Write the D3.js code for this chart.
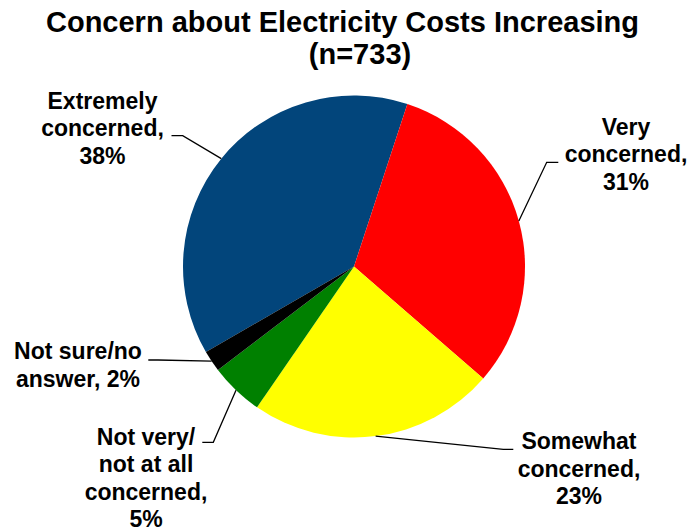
<!DOCTYPE html>
<html>
<head>
<meta charset="utf-8">
<script src="https://cdn.jsdelivr.net/npm/d3@7"></script>
<style>
  body { margin: 0; background: #fff; }
</style>
</head>
<body>
<script>
// data
let categories = ['Extremely concerned', 'Very concerned', 'Somewhat concerned', 'Not very/ not at all concerned', 'Not sure/no answer'];
let values = [38, 31, 23, 5, 2];
let labelLines = [
  ['Extremely', 'concerned,', '38%'],
  ['Very', 'concerned,', '31%'],
  ['Somewhat', 'concerned,', '23%'],
  ['Not very/', 'not at all', 'concerned,', '5%'],
  ['Not sure/no', 'answer, 2%']
];
let colors = ['#02457b', '#ff0000', '#ffff00', '#008000', '#000000'];

let width = 691;
let height = 531;
let cx = 354;
let cy = 266.5;
let radius = 171;
let font = "'Liberation Sans', Arial, sans-serif";

// where each label sits (centre x, first baseline) and its leader elbow
let labelLayout = [
  {x: 102.5, y: 108.5, elbow: [182.7, 135.7], end: [171.5, 135.7]},
  {x: 626, y: 134.5, elbow: [546.7, 162.3], end: [558.3, 162.3]},
  {x: 579, y: 449, elbow: [503.3, 449.3], end: [513.3, 449.3]},
  {x: 146, y: 444.5, elbow: [213.3, 442.3], end: [202.3, 442.3]},
  {x: 78, y: 359.3, elbow: [158, 360], end: [148.3, 360]}
];
let lineGap = 27.6;

let data = categories.map((c, i) => ({
  category: c,
  value: values[i],
  lines: labelLines[i],
  color: colors[i],
  layout: labelLayout[i]
}));

let pie = d3.pie()
  .value(d => d.value)
  .sort(null)
  .startAngle(240 * Math.PI / 180)
  .endAngle(600 * Math.PI / 180);

let arc = d3.arc()
  .innerRadius(0)
  .outerRadius(radius);

let edgeArc = d3.arc()
  .innerRadius(radius)
  .outerRadius(radius);

let arcs = pie(data);

let svg = d3.create('svg')
  .attr('width', width)
  .attr('height', height);

svg.append('rect')
  .attr('width', width)
  .attr('height', height)
  .attr('fill', '#fff');

svg.append('text')
  .attr('font-family', font)
  .attr('font-weight', 'bold')
  .attr('font-size', 29)
  .attr('text-anchor', 'middle')
  .selectAll('tspan')
  .data([
    {t: 'Concern about Electricity Costs Increasing', x: 342.5, y: 31.5},
    {t: '(n=733)', x: 360, y: 64}
  ])
  .join('tspan')
  .attr('x', d => d.x)
  .attr('y', d => d.y)
  .text(d => d.t);

let g = svg.append('g')
  .attr('transform', `translate(${cx},${cy})`);

g.selectAll('path.slice')
  .data(arcs)
  .join('path')
  .attr('class', 'slice')
  .attr('d', arc)
  .attr('fill', d => d.data.color);

// leader lines from slice edge to label
svg.append('g')
  .selectAll('polyline')
  .data(arcs)
  .join('polyline')
  .attr('points', d => {
    let p = edgeArc.centroid(d);
    let l = d.data.layout;
    return [[p[0] + cx, p[1] + cy], l.elbow, l.end].map(q => q.join(',')).join(' ');
  })
  .attr('fill', 'none')
  .attr('stroke', '#000')
  .attr('stroke-width', 1.3);

svg.append('g')
  .selectAll('text')
  .data(arcs)
  .join('text')
  .attr('font-family', font)
  .attr('font-weight', 'bold')
  .attr('font-size', 23)
  .attr('text-anchor', 'middle')
  .each(function(d) {
    let l = d.data.layout;
    d3.select(this).selectAll('tspan')
      .data(d.data.lines)
      .join('tspan')
      .attr('x', l.x)
      .attr('y', (t, i) => l.y + i * lineGap)
      .text(t => t);
  });

document.body.appendChild(svg.node());
</script>
</body>
</html>
